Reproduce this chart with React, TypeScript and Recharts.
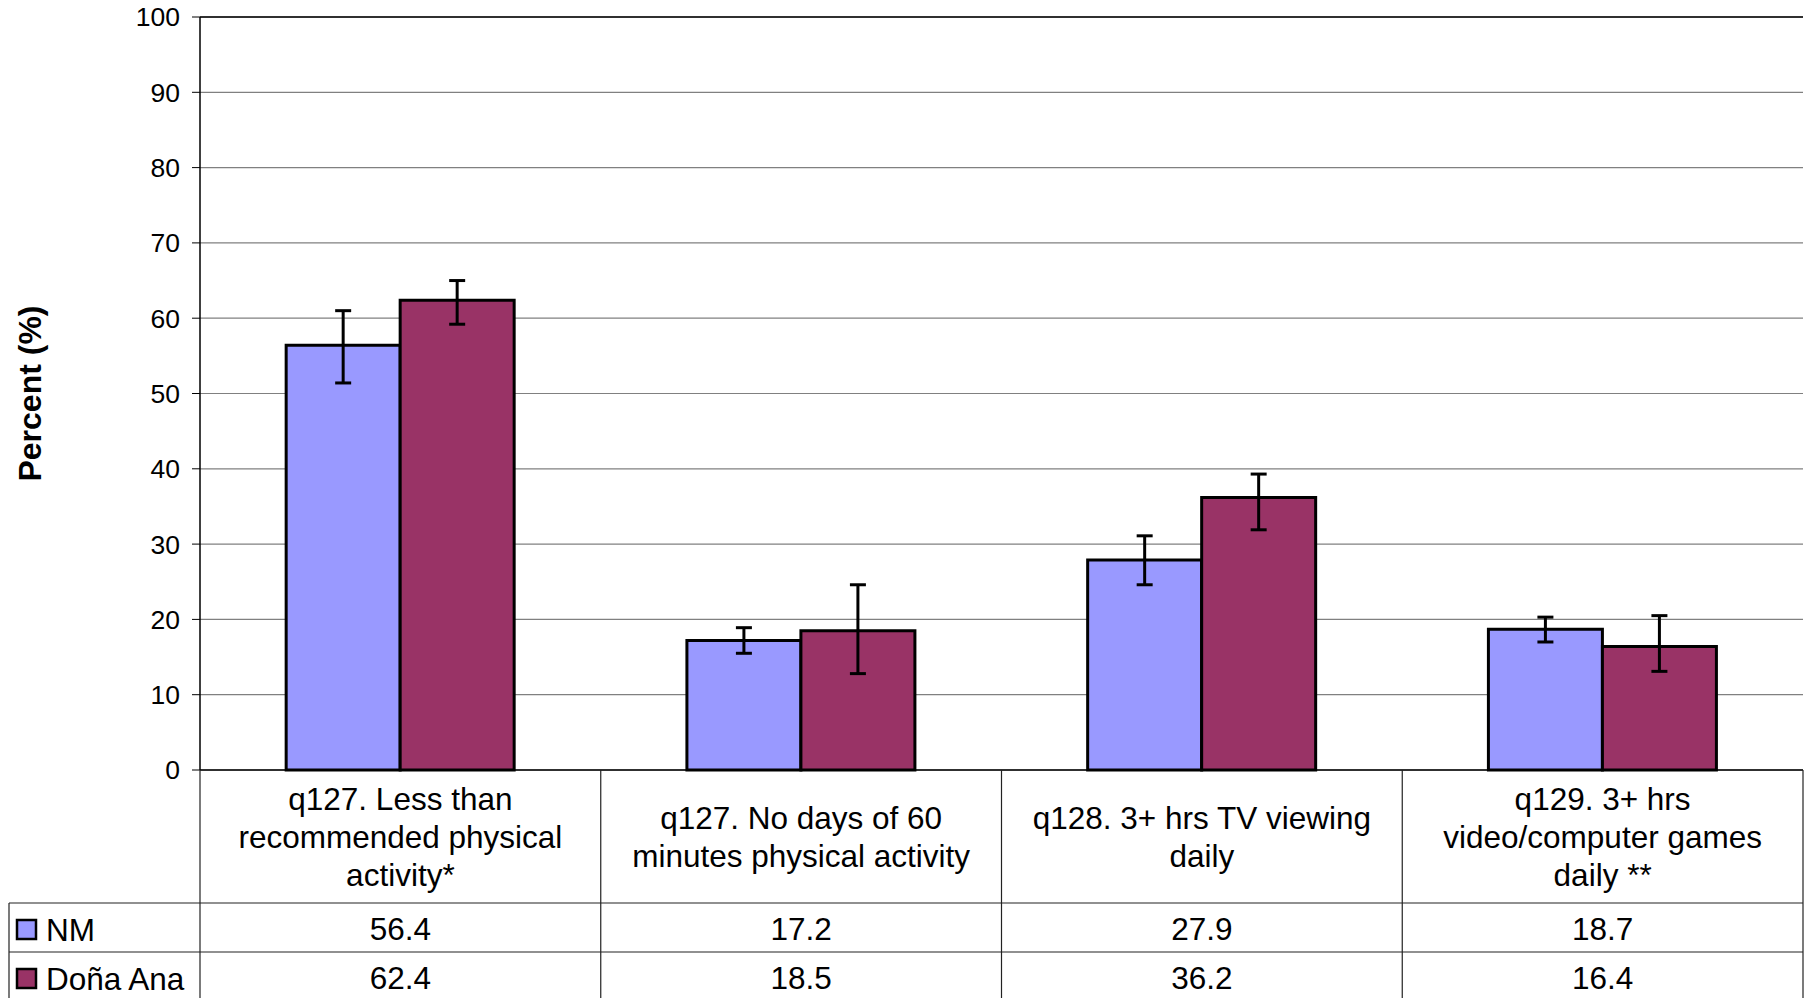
import { BarChart, Bar, XAxis, YAxis, CartesianGrid, ErrorBar, ReferenceLine } from "recharts";

const categories = [
  "q127. Less than\nrecommended physical\nactivity*",
  "q127. No days of 60\nminutes physical activity",
  "q128. 3+ hrs TV viewing\ndaily",
  "q129. 3+ hrs\nvideo/computer games\ndaily **",
];
const seriesNames = ["NM", "Doña Ana"];
const nmValues = [56.4, 17.2, 27.9, 18.7];
const donaValues = [62.4, 18.5, 36.2, 16.4];
// confidence interval bounds
const nmLow = [51.4, 15.5, 24.6, 17.0];
const nmHigh = [61.0, 18.9, 31.1, 20.3];
const donaLow = [59.2, 12.8, 31.9, 13.1];
const donaHigh = [65.0, 24.6, 39.3, 20.5];
const yTicks = [0, 10, 20, 30, 40, 50, 60, 70, 80, 90, 100];

const colors = ["#9999FF", "#993366"];
const FONT = "'Liberation Sans', Arial, sans-serif";

const data = categories.map((name, i) => ({
  name,
  nm: nmValues[i],
  dona: donaValues[i],
  nmErr: [nmValues[i] - nmLow[i], nmHigh[i] - nmValues[i]],
  donaErr: [donaValues[i] - donaLow[i], donaHigh[i] - donaValues[i]],
}));

const HEADER_H = 133;
const ROW_H = 49;
const TABLE_BOTTOM = 998;
const LEGEND_LEFT = 9;
const TEXT_SIZE = 31.5;

function TableTick(props: any) {
  const { x, y, payload, index } = props;
  const half = payload?.offset ?? 200;
  const i = payload?.index ?? index;
  const lines = String(payload.value).split("\n");
  const left = x - half;
  const right = x + half;
  const lineGap = 38;
  const firstBase = y + HEADER_H / 2 - ((lines.length - 1) * lineGap) / 2 + 11;
  const rowVals = [nmValues[i], donaValues[i]];
  return (
    <g fontFamily={FONT} fill="#000">
      {lines.map((ln, k) => (
        <text key={k} x={x} y={firstBase + k * lineGap} textAnchor="middle" fontSize={TEXT_SIZE} fill="#000">
          {ln}
        </text>
      ))}
      {rowVals.map((v, r) => (
        <text key={"v" + r} x={x} y={y + HEADER_H + r * ROW_H + 37} textAnchor="middle" fontSize={TEXT_SIZE} fill="#000">
          {v.toFixed(1)}
        </text>
      ))}
      <line x1={right} y1={y} x2={right} y2={TABLE_BOTTOM} stroke="#222" strokeWidth={1.2} />
      <line x1={left} y1={y + HEADER_H} x2={right} y2={y + HEADER_H} stroke="#222" strokeWidth={1.2} />
      <line x1={left} y1={y + HEADER_H + ROW_H} x2={right} y2={y + HEADER_H + ROW_H} stroke="#222" strokeWidth={1.2} />
      {i === 0 && (
        <g>
          <line x1={left} y1={y} x2={left} y2={TABLE_BOTTOM} stroke="#222" strokeWidth={1.2} />
          <line x1={LEGEND_LEFT} y1={y + HEADER_H} x2={left} y2={y + HEADER_H} stroke="#222" strokeWidth={1.2} />
          <line x1={LEGEND_LEFT} y1={y + HEADER_H + ROW_H} x2={left} y2={y + HEADER_H + ROW_H} stroke="#222" strokeWidth={1.2} />
          <line x1={LEGEND_LEFT} y1={y + HEADER_H} x2={LEGEND_LEFT} y2={TABLE_BOTTOM} stroke="#222" strokeWidth={1.2} />
          {seriesNames.map((s, r) => (
            <g key={s}>
              <rect x={17} y={y + HEADER_H + r * ROW_H + 17} width={19} height={19} fill={colors[r]} stroke="#000" strokeWidth={2.5} />
              <text x={46} y={y + HEADER_H + r * ROW_H + 38} fontSize={TEXT_SIZE} fill="#000">
                {s}
              </text>
            </g>
          ))}
        </g>
      )}
    </g>
  );
}

function YLabel(props: any) {
  const vb = props.viewBox || { y: 17, height: 753 };
  const cy = vb.y + vb.height / 2;
  return (
    <text x={30} y={cy} transform={`rotate(-90 30 ${cy})`} textAnchor="middle" dominantBaseline="central"
      fontFamily={FONT} fontWeight="bold" fontSize={32} fill="#000">
      Percent (%)
    </text>
  );
}

export default function App() {
  return (
    <div style={{ position: "absolute", left: 0, top: 0, background: "#fff" }}>
      <BarChart width={1811} height={998} data={data} margin={{ top: 17, right: 8, left: 0, bottom: 0 }}
        barCategoryGap="21.5%" barGap={0}>
        <CartesianGrid vertical={false} stroke="#808080" strokeWidth={1.2} />
        <XAxis dataKey="name" height={228} interval={0} tickSize={0} tickMargin={0} tickLine={false}
          axisLine={{ stroke: "#000", strokeWidth: 1.5 }} tick={<TableTick />} />
        <YAxis domain={[0, 100]} ticks={yTicks} width={200} tickSize={8} tickMargin={12}
          axisLine={{ stroke: "#000", strokeWidth: 1.5 }} tickLine={{ stroke: "#000" }}
          tick={{ fontSize: 26.5, fontFamily: FONT, fill: "#000" }} label={<YLabel />} />
        <YAxis yAxisId="right" orientation="right" width={0} domain={[0, 100]} tick={false} tickLine={false}
          axisLine={{ stroke: "#808080", strokeWidth: 1.2 }} />
        <ReferenceLine y={100} stroke="#000" strokeWidth={1.5} />
        <Bar dataKey="nm" name={seriesNames[0]} fill={colors[0]} stroke="#000" strokeWidth={3} isAnimationActive={false}>
          <ErrorBar dataKey="nmErr" width={8} stroke="#000" strokeWidth={3} isAnimationActive={false} />
        </Bar>
        <Bar dataKey="dona" name={seriesNames[1]} fill={colors[1]} stroke="#000" strokeWidth={3} isAnimationActive={false}>
          <ErrorBar dataKey="donaErr" width={8} stroke="#000" strokeWidth={3} isAnimationActive={false} />
        </Bar>
      </BarChart>
    </div>
  );
}
